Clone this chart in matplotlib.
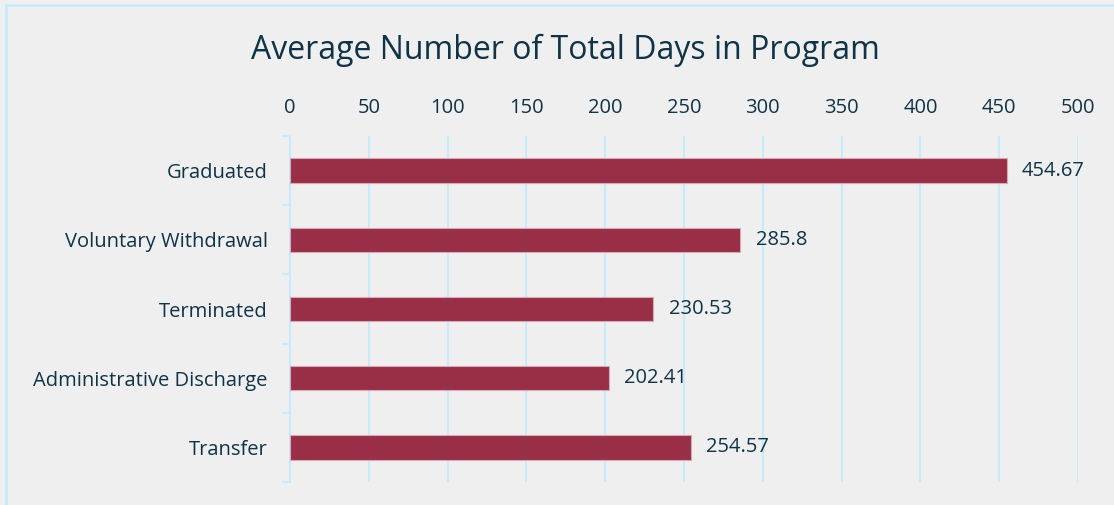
import matplotlib
matplotlib.use('Agg')
import matplotlib.pyplot as plt
import matplotlib.patches as mpatches

# Data
categories = ["Graduated", "Voluntary Withdrawal", "Terminated", "Administrative Discharge", "Transfer"]
avg_days = [454.67, 285.8, 230.53, 202.41, 254.57]
value_labels = ["454.67", "285.8", "230.53", "202.41", "254.57"]
x_ticks = [0, 50, 100, 150, 200, 250, 300, 350, 400, 450, 500]

bg = '#efefef'
grid_col = '#c6ebfb'
text_col = '#0f3347'
bar_col = '#992f47'

plt.rcParams['font.family'] = ['Open Sans', 'DejaVu Sans']

fig = plt.figure(figsize=(11.14, 5.05), dpi=100, facecolor=bg)
ax = fig.add_axes([0.2603, 0.0455, 0.7074, 0.6852])
ax.set_facecolor(bg)

# outer border of the chart box
fig.patches.append(mpatches.Rectangle((0.0055, -0.01), 1.0, 1.0, transform=fig.transFigure,
                                      fill=False, edgecolor=grid_col, linewidth=2))

ypos = list(range(len(categories)))
ax.barh(ypos, avg_days, height=0.35, color=bar_col, edgecolor='#d7a9b5', linewidth=0.8, zorder=3)

for y, v, lab in zip(ypos, avg_days, value_labels):
    ax.annotate(lab, xy=(v, y), xytext=(11, 0), textcoords='offset points', va='center', ha='left',
                fontsize=14.5, color=text_col)

ax.set_xlim(0, 500)
ax.set_ylim(len(categories) - 0.5, -0.5)
ax.set_xticks(x_ticks)
ax.xaxis.tick_top()
ax.tick_params(axis='x', length=0, pad=13, labelsize=14.5, labelcolor=text_col)
ax.grid(axis='x', color=grid_col, linewidth=1.5, zorder=0)

# category labels without ticks, ticks at boundaries
ax.set_yticks(ypos)
ax.set_yticklabels(categories, fontsize=14.5, color=text_col)
ax.tick_params(axis='y', length=0, pad=16)
ax.set_yticks([i - 0.5 for i in range(len(categories) + 1)], minor=True)
ax.tick_params(axis='y', which='minor', length=6, width=1.5, color=grid_col)

for s in ['top', 'right', 'bottom']:
    ax.spines[s].set_visible(False)
ax.spines['left'].set_color(grid_col)
ax.spines['left'].set_linewidth(1.5)

fig.text(0.508, 0.9, "Average Number of Total Days in Program", ha='center', va='center',
         fontsize=23, color=text_col)

fig.savefig('out.png', dpi=100, facecolor=bg)
